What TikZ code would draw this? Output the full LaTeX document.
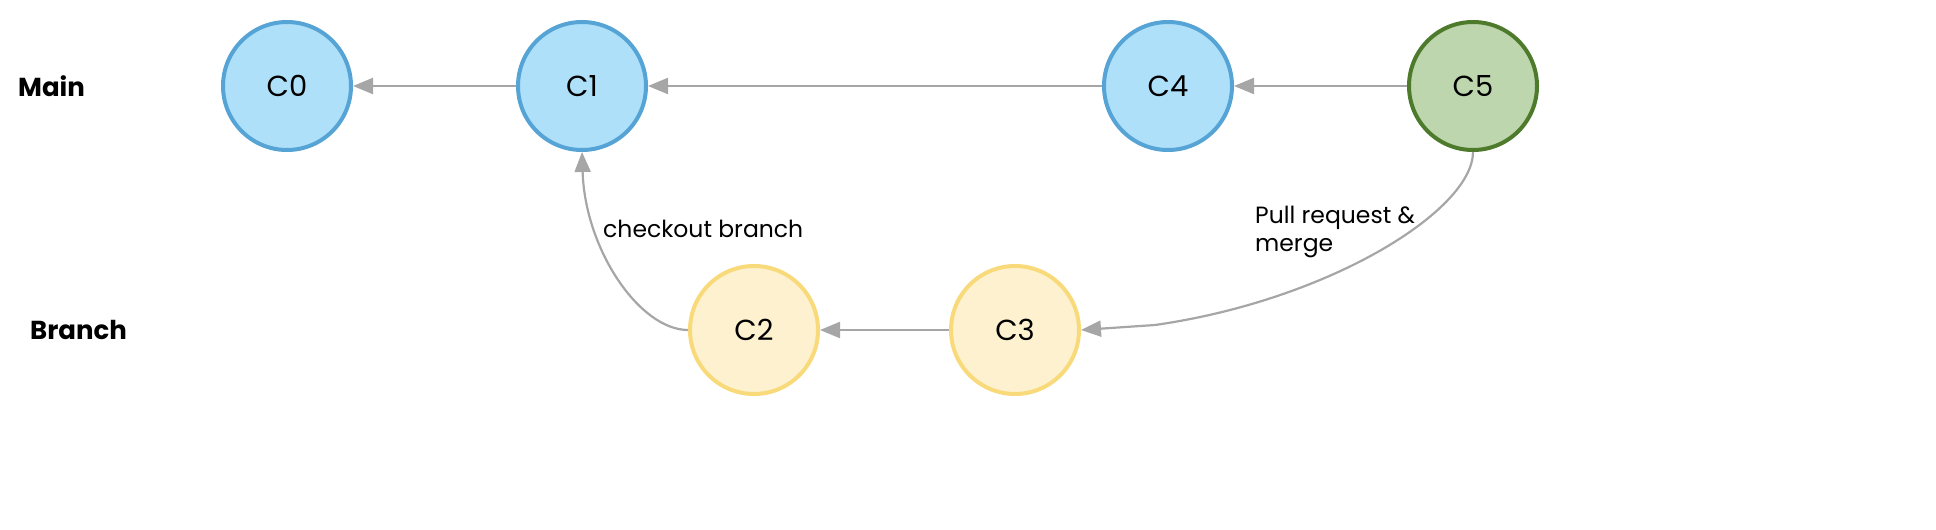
\documentclass[tikz,border=0pt]{standalone}
\usepackage{fontspec}
\setmainfont{Poppins}
\usetikzlibrary{arrows.meta}
\definecolor{bluefill}{HTML}{AEE0FA}
\definecolor{blueline}{HTML}{56A4D5}
\definecolor{greenfill}{HTML}{BDD6AD}
\definecolor{greenline}{HTML}{4E7A2C}
\definecolor{yellowfill}{HTML}{FDF1D0}
\definecolor{yellowline}{HTML}{F9DA7A}
\definecolor{linegrey}{HTML}{A6A6A6}
\begin{document}
\begin{tikzpicture}[x=1pt,y=-1pt,
  commit/.style={circle,minimum size=128pt,inner sep=0pt,line width=4pt,font=\fontsize{29}{32}\selectfont},
  bluec/.style={commit,draw=blueline,fill=bluefill},
  greenc/.style={commit,draw=greenline,fill=greenfill},
  yellowc/.style={commit,draw=yellowline,fill=yellowfill},
  conn/.style={draw=linegrey,line width=2.2pt,-{Triangle[length=20pt,width=16pt]}},
  lane/.style={font=\bfseries\fontsize{26}{30}\selectfont,anchor=west,inner sep=0pt},
  lbl/.style={font=\fontsize{23.5}{28}\selectfont,anchor=west,align=left,inner sep=0pt}]
\useasboundingbox (0,0) rectangle (1936,530);
\node[bluec] (c0) at (287,86) {C0};
\node[bluec] (c1) at (582,86) {C1};
\node[bluec] (c4) at (1168,86) {C4};
\node[greenc] (c5) at (1473,86) {C5};
\node[yellowc] (c2) at (754,330) {C2};
\node[yellowc] (c3) at (1015,330) {C3};
\node[lane] (main) at (18,86) {Main};
\node[lane] (branch) at (30,330) {Branch};
\draw[conn] (c1) -- (c0);
\draw[conn] (c4) -- (c1);
\draw[conn] (c5) -- (c4);
\draw[conn] (c3) -- (c2);
\draw[conn] (c2.west) .. controls (640,330) and (585,250) .. (c1.south);
\coordinate (bend) at (1155,325);
\draw[conn] (c5.south) .. controls (1473,210) and (1330,300) .. (bend) -- (c3.east);
\node[lbl] (cb) at (603,229) {checkout branch};
\node[lbl,anchor=north west] (pr) at (1255,206) {Pull request \&\\merge};
\end{tikzpicture}
\end{document}
